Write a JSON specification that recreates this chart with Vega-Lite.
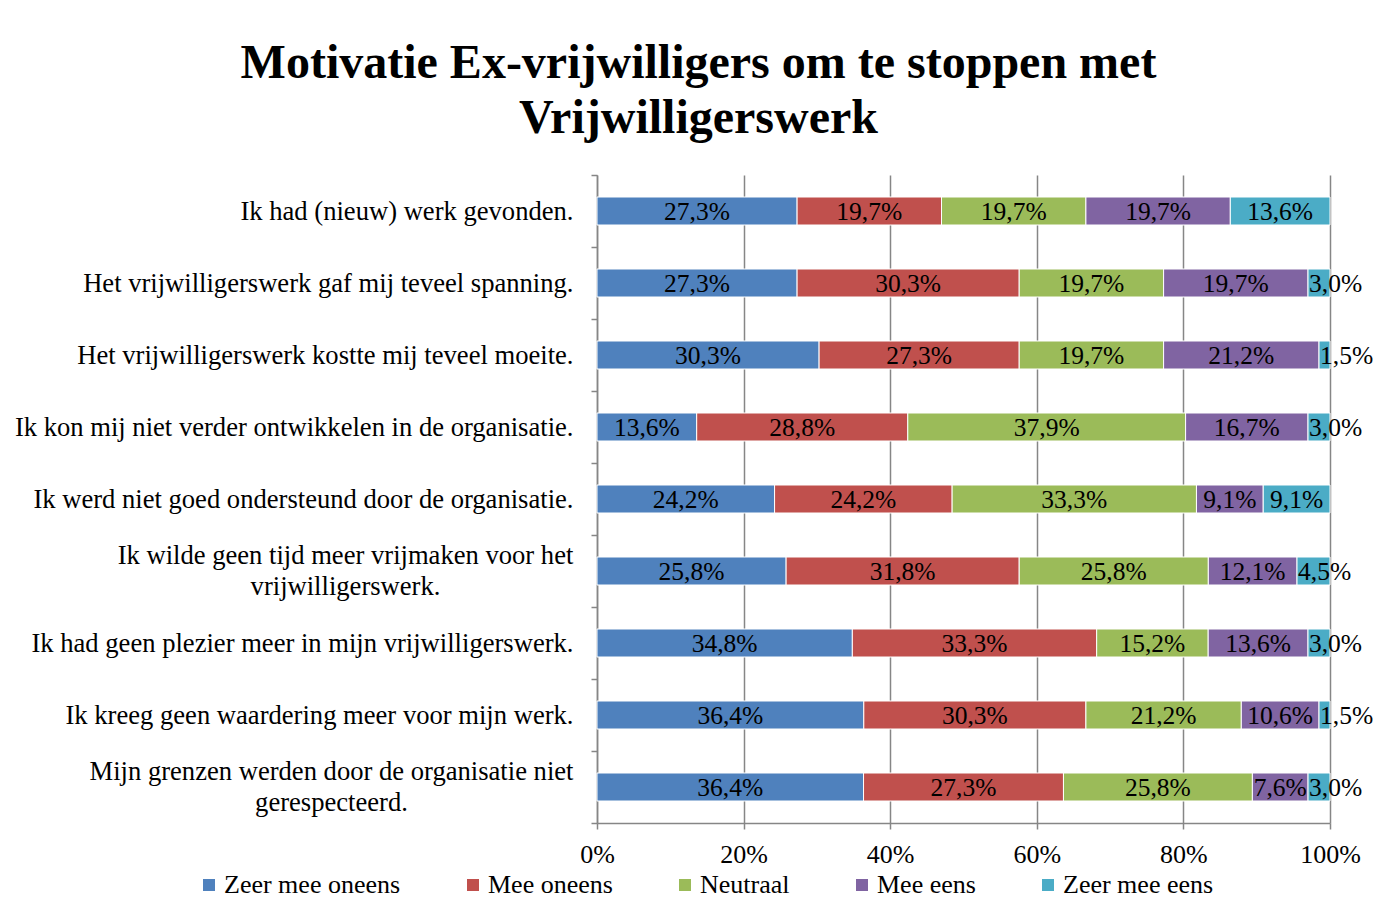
{
  "$schema": "https://vega.github.io/schema/vega-lite/v6.json",
  "autosize": "none",
  "width": 733,
  "height": 648,
  "padding": {"left": 597, "top": 175, "right": 49, "bottom": 81},
  "background": "white",
  "title": {
    "text": ["Motivatie Ex-vrijwilligers om te stoppen met", "Vrijwilligerswerk"],
    "font": "Liberation Serif",
    "fontSize": 48,
    "fontWeight": "bold",
    "color": "black",
    "lineHeight": 55,
    "anchor": "middle",
    "dx": -265,
    "offset": 19
  },
  "config": {
    "view": {"stroke": null},
    "axis": {"labelFont": "Liberation Serif", "labelColor": "black", "labelFontSize": 26, "domainColor": "#868686", "tickColor": "#868686", "domainWidth": 1.5, "tickWidth": 1.5, "gridColor": "#868686", "gridWidth": 1.5}
  },
  "data": {
    "values": [
      {"c": "Ik had (nieuw) werk gevonden.", "s": "Zeer mee oneens", "k": 1, "v": 27.3, "label": "27,3%"},
      {"c": "Ik had (nieuw) werk gevonden.", "s": "Mee oneens", "k": 2, "v": 19.7, "label": "19,7%"},
      {"c": "Ik had (nieuw) werk gevonden.", "s": "Neutraal", "k": 3, "v": 19.7, "label": "19,7%"},
      {"c": "Ik had (nieuw) werk gevonden.", "s": "Mee eens", "k": 4, "v": 19.7, "label": "19,7%"},
      {"c": "Ik had (nieuw) werk gevonden.", "s": "Zeer mee eens", "k": 5, "v": 13.6, "label": "13,6%"},
      {"c": "Het vrijwilligerswerk gaf mij teveel spanning.", "s": "Zeer mee oneens", "k": 1, "v": 27.3, "label": "27,3%"},
      {"c": "Het vrijwilligerswerk gaf mij teveel spanning.", "s": "Mee oneens", "k": 2, "v": 30.3, "label": "30,3%"},
      {"c": "Het vrijwilligerswerk gaf mij teveel spanning.", "s": "Neutraal", "k": 3, "v": 19.7, "label": "19,7%"},
      {"c": "Het vrijwilligerswerk gaf mij teveel spanning.", "s": "Mee eens", "k": 4, "v": 19.7, "label": "19,7%"},
      {"c": "Het vrijwilligerswerk gaf mij teveel spanning.", "s": "Zeer mee eens", "k": 5, "v": 3.0, "label": "3,0%"},
      {"c": "Het vrijwilligerswerk kostte mij teveel moeite.", "s": "Zeer mee oneens", "k": 1, "v": 30.3, "label": "30,3%"},
      {"c": "Het vrijwilligerswerk kostte mij teveel moeite.", "s": "Mee oneens", "k": 2, "v": 27.3, "label": "27,3%"},
      {"c": "Het vrijwilligerswerk kostte mij teveel moeite.", "s": "Neutraal", "k": 3, "v": 19.7, "label": "19,7%"},
      {"c": "Het vrijwilligerswerk kostte mij teveel moeite.", "s": "Mee eens", "k": 4, "v": 21.2, "label": "21,2%"},
      {"c": "Het vrijwilligerswerk kostte mij teveel moeite.", "s": "Zeer mee eens", "k": 5, "v": 1.5, "label": "1,5%"},
      {"c": "Ik kon mij niet verder ontwikkelen in de organisatie.", "s": "Zeer mee oneens", "k": 1, "v": 13.6, "label": "13,6%"},
      {"c": "Ik kon mij niet verder ontwikkelen in de organisatie.", "s": "Mee oneens", "k": 2, "v": 28.8, "label": "28,8%"},
      {"c": "Ik kon mij niet verder ontwikkelen in de organisatie.", "s": "Neutraal", "k": 3, "v": 37.9, "label": "37,9%"},
      {"c": "Ik kon mij niet verder ontwikkelen in de organisatie.", "s": "Mee eens", "k": 4, "v": 16.7, "label": "16,7%"},
      {"c": "Ik kon mij niet verder ontwikkelen in de organisatie.", "s": "Zeer mee eens", "k": 5, "v": 3.0, "label": "3,0%"},
      {"c": "Ik werd niet goed ondersteund door de organisatie.", "s": "Zeer mee oneens", "k": 1, "v": 24.2, "label": "24,2%"},
      {"c": "Ik werd niet goed ondersteund door de organisatie.", "s": "Mee oneens", "k": 2, "v": 24.2, "label": "24,2%"},
      {"c": "Ik werd niet goed ondersteund door de organisatie.", "s": "Neutraal", "k": 3, "v": 33.3, "label": "33,3%"},
      {"c": "Ik werd niet goed ondersteund door de organisatie.", "s": "Mee eens", "k": 4, "v": 9.1, "label": "9,1%"},
      {"c": "Ik werd niet goed ondersteund door de organisatie.", "s": "Zeer mee eens", "k": 5, "v": 9.1, "label": "9,1%"},
      {"c": "Ik wilde geen tijd meer vrijmaken voor het|vrijwilligerswerk.", "s": "Zeer mee oneens", "k": 1, "v": 25.8, "label": "25,8%"},
      {"c": "Ik wilde geen tijd meer vrijmaken voor het|vrijwilligerswerk.", "s": "Mee oneens", "k": 2, "v": 31.8, "label": "31,8%"},
      {"c": "Ik wilde geen tijd meer vrijmaken voor het|vrijwilligerswerk.", "s": "Neutraal", "k": 3, "v": 25.8, "label": "25,8%"},
      {"c": "Ik wilde geen tijd meer vrijmaken voor het|vrijwilligerswerk.", "s": "Mee eens", "k": 4, "v": 12.1, "label": "12,1%"},
      {"c": "Ik wilde geen tijd meer vrijmaken voor het|vrijwilligerswerk.", "s": "Zeer mee eens", "k": 5, "v": 4.5, "label": "4,5%"},
      {"c": "Ik had geen plezier meer in mijn vrijwilligerswerk.", "s": "Zeer mee oneens", "k": 1, "v": 34.8, "label": "34,8%"},
      {"c": "Ik had geen plezier meer in mijn vrijwilligerswerk.", "s": "Mee oneens", "k": 2, "v": 33.3, "label": "33,3%"},
      {"c": "Ik had geen plezier meer in mijn vrijwilligerswerk.", "s": "Neutraal", "k": 3, "v": 15.2, "label": "15,2%"},
      {"c": "Ik had geen plezier meer in mijn vrijwilligerswerk.", "s": "Mee eens", "k": 4, "v": 13.6, "label": "13,6%"},
      {"c": "Ik had geen plezier meer in mijn vrijwilligerswerk.", "s": "Zeer mee eens", "k": 5, "v": 3.0, "label": "3,0%"},
      {"c": "Ik kreeg geen waardering meer voor mijn werk.", "s": "Zeer mee oneens", "k": 1, "v": 36.4, "label": "36,4%"},
      {"c": "Ik kreeg geen waardering meer voor mijn werk.", "s": "Mee oneens", "k": 2, "v": 30.3, "label": "30,3%"},
      {"c": "Ik kreeg geen waardering meer voor mijn werk.", "s": "Neutraal", "k": 3, "v": 21.2, "label": "21,2%"},
      {"c": "Ik kreeg geen waardering meer voor mijn werk.", "s": "Mee eens", "k": 4, "v": 10.6, "label": "10,6%"},
      {"c": "Ik kreeg geen waardering meer voor mijn werk.", "s": "Zeer mee eens", "k": 5, "v": 1.5, "label": "1,5%"},
      {"c": "Mijn grenzen werden door de organisatie niet|gerespecteerd.", "s": "Zeer mee oneens", "k": 1, "v": 36.4, "label": "36,4%"},
      {"c": "Mijn grenzen werden door de organisatie niet|gerespecteerd.", "s": "Mee oneens", "k": 2, "v": 27.3, "label": "27,3%"},
      {"c": "Mijn grenzen werden door de organisatie niet|gerespecteerd.", "s": "Neutraal", "k": 3, "v": 25.8, "label": "25,8%"},
      {"c": "Mijn grenzen werden door de organisatie niet|gerespecteerd.", "s": "Mee eens", "k": 4, "v": 7.6, "label": "7,6%"},
      {"c": "Mijn grenzen werden door de organisatie niet|gerespecteerd.", "s": "Zeer mee eens", "k": 5, "v": 3.0, "label": "3,0%"}
    ]
  },
  "layer": [
    {
      "mark": {"type": "bar", "stroke": "white", "strokeWidth": 1, "size": 28},
      "encoding": {
        "y": {
          "field": "c", "type": "nominal", "sort": null, "title": null,
          "scale": {
            "domain": ["Ik had (nieuw) werk gevonden.", "Het vrijwilligerswerk gaf mij teveel spanning.", "Het vrijwilligerswerk kostte mij teveel moeite.", "Ik kon mij niet verder ontwikkelen in de organisatie.", "Ik werd niet goed ondersteund door de organisatie.", "Ik wilde geen tijd meer vrijmaken voor het|vrijwilligerswerk.", "Ik had geen plezier meer in mijn vrijwilligerswerk.", "Ik kreeg geen waardering meer voor mijn werk.", "Mijn grenzen werden door de organisatie niet|gerespecteerd."],
            "paddingInner": 0, "paddingOuter": 0
          },
          "axis": {"tickBand": "extent", "tickSize": 6, "labelPadding": 18, "labelLimit": 800, "grid": false, "labelFontSize": 26.6,
            "labelExpr": "indexof(datum.label, '|') >= 0 ? '' : datum.label"}
        },
        "x": {
          "field": "v", "type": "quantitative", "stack": "normalize", "title": null,
          "scale": {"domain": [0, 1]},
          "axis": {"format": "%", "values": [0, 0.2, 0.4, 0.6, 0.8, 1], "tickSize": 6, "labelPadding": 12, "labelFlush": false, "grid": true}
        },
        "color": {
          "field": "s", "type": "nominal", "title": null,
          "scale": {"domain": ["Zeer mee oneens", "Mee oneens", "Neutraal", "Mee eens", "Zeer mee eens"], "range": ["#4F81BD", "#C0504D", "#9BBB59", "#8064A2", "#4BACC6"]},
          "legend": {"orient": "none", "direction": "horizontal", "legendX": -401, "legendY": 697, "symbolType": "square", "symbolSize": 144, "symbolStrokeWidth": 0, "labelFont": "Liberation Serif", "labelFontSize": 26, "labelColor": "black", "labelOffset": 2, "columnPadding": 59, "labelLimit": 400}
        },
        "order": {"field": "k"}
      }
    },
    {
      "mark": {"type": "text", "font": "Liberation Serif", "fontSize": 25.5, "baseline": "middle", "align": "center", "dy": 1, "color": "black"},
      "encoding": {
        "y": {"field": "c", "type": "nominal", "sort": null},
        "x": {"field": "v", "type": "quantitative", "stack": "normalize", "bandPosition": 0.5},
        "detail": {"field": "s"},
        "order": {"field": "k"},
        "text": {"condition": {"test": "datum.v >= 5", "field": "label"}, "value": ""}
      }
    },
    {
      "mark": {"type": "text", "font": "Liberation Serif", "fontSize": 25.5, "baseline": "middle", "align": "left", "dx": 1, "dy": 1, "color": "black"},
      "encoding": {
        "y": {"field": "c", "type": "nominal", "sort": null},
        "x": {"field": "v", "type": "quantitative", "stack": "normalize", "bandPosition": 0},
        "detail": {"field": "s"},
        "order": {"field": "k"},
        "text": {"condition": {"test": "datum.v < 5", "field": "label"}, "value": ""}
      }
    },
    {
      "data": {"values": [{"c": "Ik wilde geen tijd meer vrijmaken voor het|vrijwilligerswerk.", "t": ["Ik wilde geen tijd meer vrijmaken voor het", "vrijwilligerswerk."]}]},
      "mark": {"type": "text", "font": "Liberation Serif", "fontSize": 26.6, "baseline": "middle", "align": "center", "lineHeight": 31, "dx": -251.5, "color": "black"},
      "encoding": {
        "y": {"field": "c", "type": "nominal", "bandPosition": 0.285},
        "x": {"datum": 0, "type": "quantitative"},
        "text": {"field": "t"}
      }
    },
    {
      "data": {"values": [{"c": "Mijn grenzen werden door de organisatie niet|gerespecteerd.", "t": ["Mijn grenzen werden door de organisatie niet", "gerespecteerd."]}]},
      "mark": {"type": "text", "font": "Liberation Serif", "fontSize": 26.6, "baseline": "middle", "align": "center", "lineHeight": 31, "dx": -265.5, "color": "black"},
      "encoding": {
        "y": {"field": "c", "type": "nominal", "bandPosition": 0.285},
        "x": {"datum": 0, "type": "quantitative"},
        "text": {"field": "t"}
      }
    }
  ]
}
